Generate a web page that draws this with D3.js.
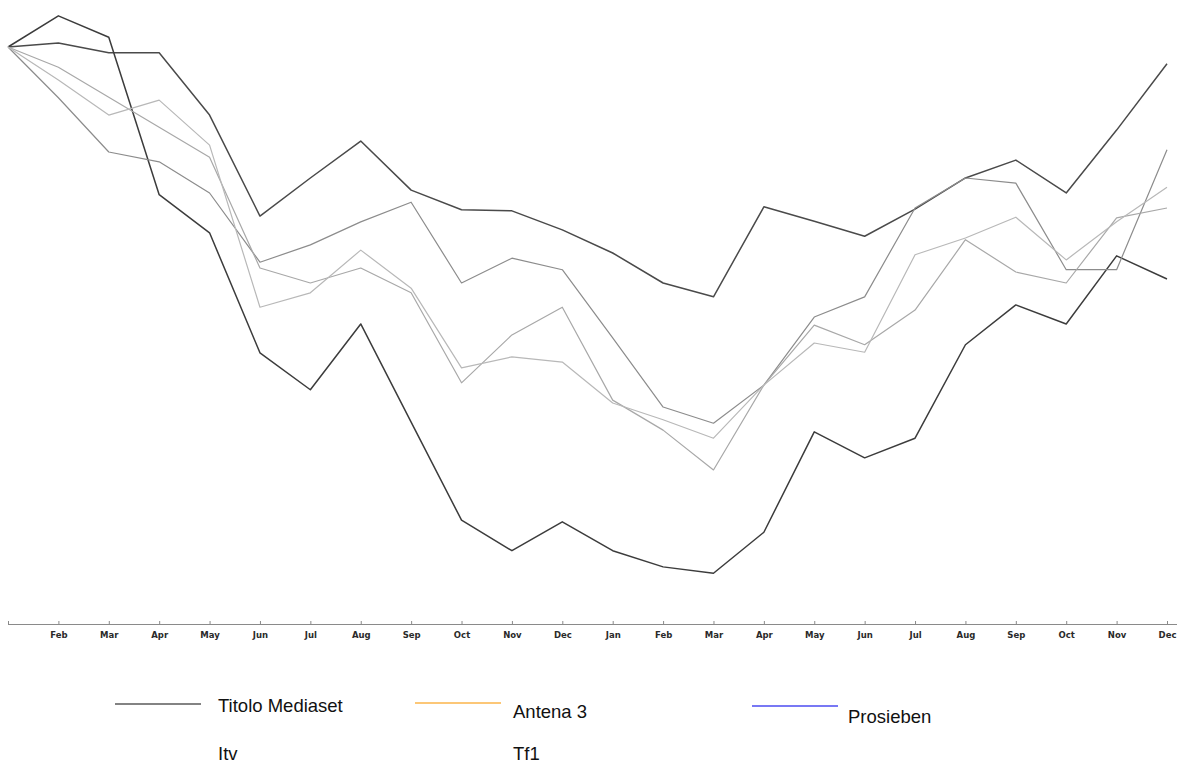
<!DOCTYPE html>
<html>
<head>
<meta charset="utf-8">
<script src="https://cdn.jsdelivr.net/npm/d3@7"></script>
<style>
  body { margin: 0; background: #fff; }
  svg { display: block; }
</style>
</head>
<body>
<div id="chart"></div>
<script>
// month labels over two years
const months = ["Jan", "Feb", "Mar", "Apr", "May", "Jun", "Jul", "Aug", "Sep", "Oct", "Nov", "Dec",
                "Jan", "Feb", "Mar", "Apr", "May", "Jun", "Jul", "Aug", "Sep", "Oct", "Nov", "Dec"];

// index values (start = 100)
const titoloMediaset = [100, 100.7, 99.0, 99.0, 88.2, 70.7, 77.3, 83.7, 75.2, 71.8, 71.6, 68.3,
                        64.3, 59.1, 56.7, 72.3, 69.8, 67.2, 71.9, 77.3, 80.4, 74.7, 85.6, 97.1];
const itv = [100, 105.4, 101.7, 74.4, 67.8, 47.0, 40.6, 52.0, 35.0, 18.0, 12.7, 17.7,
             12.7, 9.9, 8.8, 15.9, 33.3, 28.8, 32.2, 48.4, 55.3, 52.0, 63.8, 59.8];
const antena3 = [100, 91.2, 81.8, 80.1, 74.7, 62.7, 65.7, 69.7, 73.1, 59.1, 63.4, 61.4,
                 49.6, 37.6, 34.8, 41.4, 53.2, 56.7, 72.1, 77.3, 76.4, 61.4, 61.4, 82.2];
const prosieben = [100, 96.5, 91.3, 86.1, 80.9, 61.7, 59.1, 61.7, 57.4, 41.8, 50.1, 54.9,
                   38.8, 33.6, 26.7, 41.4, 51.8, 48.4, 54.4, 66.6, 61.0, 59.1, 70.4, 72.1];
const tf1 = [100, 94.3, 88.2, 90.8, 83.0, 54.9, 57.4, 64.8, 58.2, 44.4, 46.3, 45.4,
             38.3, 35.4, 32.2, 41.4, 48.7, 47.1, 64.0, 66.9, 70.5, 63.1, 69.7, 75.7];

const seriesNames = ["Titolo Mediaset", "Itv", "Antena 3", "Prosieben", "Tf1"];
const seriesValues = [titoloMediaset, itv, antena3, prosieben, tf1];
// the plot itself is greyscale
const plotColors = ["#4a4a4a", "#3c3c3c", "#8c8c8c", "#a8a8a8", "#b8b8b8"];

// legend entries (Itv and Tf1 have no swatch in the original)
const legendNames = ["Titolo Mediaset", "Antena 3", "Prosieben", "Itv", "Tf1"];
const legendColors = ["#5a5a5a", "#fbb44a", "#4b4bf0", null, null];

const width = 1177, height = 763;

const svg = d3.select("#chart").append("svg")
    .attr("width", width)
    .attr("height", height);

const x = d3.scalePoint()
    .domain(d3.range(months.length))
    .range([8, 1167]);

const y = d3.scaleLinear()
    .domain([0, 100])
    .range([624, 47]);

// x axis
const xAxis = d3.axisBottom(x)
    .tickSize(3)
    .tickFormat(i => i === 0 ? "" : months[i]);

const axisG = svg.append("g")
    .attr("transform", "translate(0,624)")
    .call(xAxis);

axisG.select(".domain")
    .attr("d", "M8,0.5H" + width)
    .attr("stroke", "#8a8a8a");
axisG.selectAll(".tick line")
    .attr("y1", -3)
    .attr("y2", 1)
    .attr("stroke", "#8a8a8a");
axisG.selectAll(".tick text")
    .attr("y", 8)
    .attr("fill", "#2a2a2a")
    .style("font-family", "DejaVu Sans, Verdana, sans-serif")
    .style("font-size", "8.5px")
    .style("font-weight", "bold");

// lines
const line = d3.line()
    .x((d, i) => x(i))
    .y(d => y(d));

svg.append("g")
    .selectAll("path")
    .data(seriesValues)
    .join("path")
    .attr("d", d => line(d))
    .attr("fill", "none")
    .attr("stroke", (d, i) => plotColors[i])
    .attr("stroke-width", (d, i) => i < 2 ? 1.5 : 1.2)
    .attr("stroke-linejoin", "round");

// legend
const legendPos = [
    {sx: 115, sy: 704, tx: 218, ty: 712},
    {sx: 415, sy: 703, tx: 513, ty: 718},
    {sx: 752, sy: 706, tx: 848, ty: 723},
    {sx: 115, sy: 752, tx: 218, ty: 760},
    {sx: 415, sy: 752, tx: 513, ty: 760}
];

const legend = svg.append("g");
legendNames.forEach(function(name, i) {
    let p = legendPos[i];
    if (legendColors[i]) {
        legend.append("line")
            .attr("x1", p.sx).attr("x2", p.sx + 86)
            .attr("y1", p.sy).attr("y2", p.sy)
            .attr("stroke", legendColors[i])
            .attr("stroke-width", 1.6);
    }
    legend.append("text")
        .attr("x", p.tx)
        .attr("y", p.ty)
        .attr("fill", "#111")
        .style("font-family", "Liberation Sans, Arial, sans-serif")
        .style("font-size", "18.5px")
        .text(name);
});
</script>
</body>
</html>
